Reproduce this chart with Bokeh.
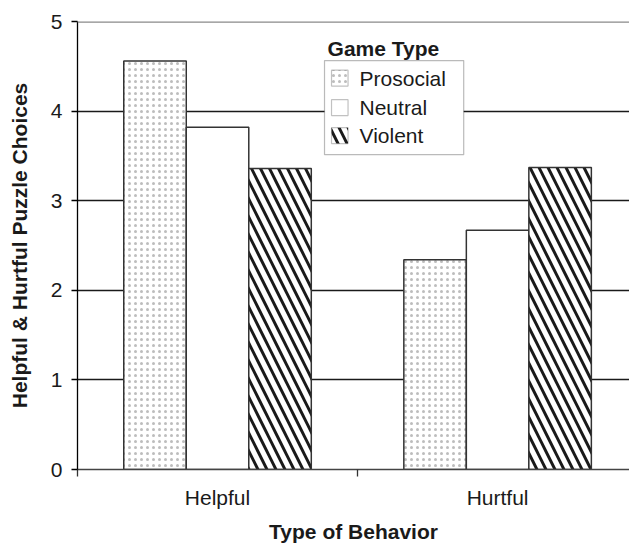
from bokeh.plotting import figure
from bokeh.models import FixedTicker, Span, BoxAnnotation, Label, Range1d
from bokeh.embed import file_html
from bokeh.resources import INLINE

# ---- data ----
behaviors = ["Helpful", "Hurtful"]
game_types = ["Prosocial", "Neutral", "Violent"]
prosocial = [4.56, 2.34]
neutral = [3.82, 2.67]
violent = [3.36, 3.37]
y_ticks = [0, 1, 2, 3, 4, 5]

FONT = "Liberation Sans"
TXT = "#1a1a1a"
FS = "21px"
BW = 0.2232

p = figure(frame_width=552, frame_height=448,
           x_range=Range1d(0, 1.971), y_range=Range1d(0, 5),
           output_backend="svg", toolbar_location=None,
           min_border_left=77, min_border_top=21, min_border_right=0,
           min_border_bottom=40)
p.outline_line_color = None
p.background_fill_color = "white"

# grid
p.xgrid.visible = False
p.ygrid.ticker = FixedTicker(ticks=y_ticks[1:-1])
p.ygrid.grid_line_color = "#1a1a1a"
p.ygrid.grid_line_width = 1.3
p.add_layout(Span(location=y_ticks[-1], dimension="width",
                  line_color="#8a8a8a", line_width=2.5))

styles = {
    "Prosocial": dict(hatch_pattern=".", hatch_color="#bdbdbd", hatch_scale=6, hatch_weight=1),
    "Neutral": dict(),
    "Violent": dict(hatch_pattern="\\", hatch_color="#1a1a1a", hatch_scale=18, hatch_weight=3),
}
series = {"Prosocial": prosocial, "Neutral": neutral, "Violent": violent}

for j, g in enumerate(game_types):
    xs = [i + 0.5 + (j - 1) * BW for i in range(len(behaviors))]
    p.vbar(x=xs, top=series[g], bottom=0, width=BW,
           fill_color="white", line_color="#333333", line_width=1.5,
           **styles[g])

# y axis
ya = p.yaxis[0]
ya.ticker = FixedTicker(ticks=y_ticks)
ya.axis_line_color = "black"
ya.axis_line_width = 1.3
ya.major_tick_line_color = "black"
ya.major_tick_line_width = 1.3
ya.major_tick_out = 6
ya.major_tick_in = 0
ya.minor_tick_line_color = None
ya.major_label_text_font = FONT
ya.major_label_text_font_size = FS
ya.major_label_text_color = TXT
ya.major_label_standoff = 9
ya.axis_label = "Helpful & Hurtful Puzzle Choices"
ya.axis_label_text_font = FONT
ya.axis_label_text_font_style = "bold"
ya.axis_label_text_font_size = FS
ya.axis_label_text_color = TXT
ya.axis_label_standoff = 17

# x axis
xa = p.xaxis[0]
xa.ticker = FixedTicker(ticks=[i + 0.5 for i in range(len(behaviors))],
                        minor_ticks=list(range(len(behaviors) + 1)))
xa.major_label_overrides = {i + 0.5: b for i, b in enumerate(behaviors)}
xa.axis_line_color = "#444444"
xa.axis_line_width = 1.5
xa.major_tick_line_color = None
xa.major_tick_out = 7
xa.major_tick_in = 0
xa.minor_tick_line_color = "#333333"
xa.minor_tick_line_width = 1.3
xa.minor_tick_out = 7
xa.minor_tick_in = 0
xa.major_label_text_font = FONT
xa.major_label_text_font_size = FS
xa.major_label_text_color = TXT
xa.major_label_standoff = 9
xa.axis_label = "Type of Behavior"
xa.axis_label_text_font = FONT
xa.axis_label_text_font_style = "bold"
xa.axis_label_text_font_size = FS
xa.axis_label_text_color = TXT
xa.axis_label_standoff = 8

# legend (drawn by hand to match the reference layout)
p.add_layout(BoxAnnotation(left=0.882, right=1.379, bottom=3.514, top=4.564,
                           fill_color="white", fill_alpha=1,
                           line_color="#1a1a1a", line_width=1.2, level="overlay"))
p.add_layout(Label(x=0.893, y=4.70, text="Game Type", text_font=FONT,
                   text_font_style="bold", text_font_size=FS,
                   text_color=TXT, text_baseline="middle"))
leg_y = [4.368, 4.039, 3.726]
for g, yc in zip(game_types, leg_y):
    p.add_layout(BoxAnnotation(left=0.907, right=0.966, bottom=yc - 0.089, top=yc + 0.089,
                               fill_color="white", fill_alpha=1,
                               line_color="#333333", line_width=1.2, level="overlay",
                               **styles[g]))
    p.add_layout(Label(x=1.007, y=yc, text=g, text_font=FONT, text_font_size=FS,
                       text_color=TXT, text_baseline="middle", level="overlay"))

open("out.html", "w").write(file_html(p, INLINE))
